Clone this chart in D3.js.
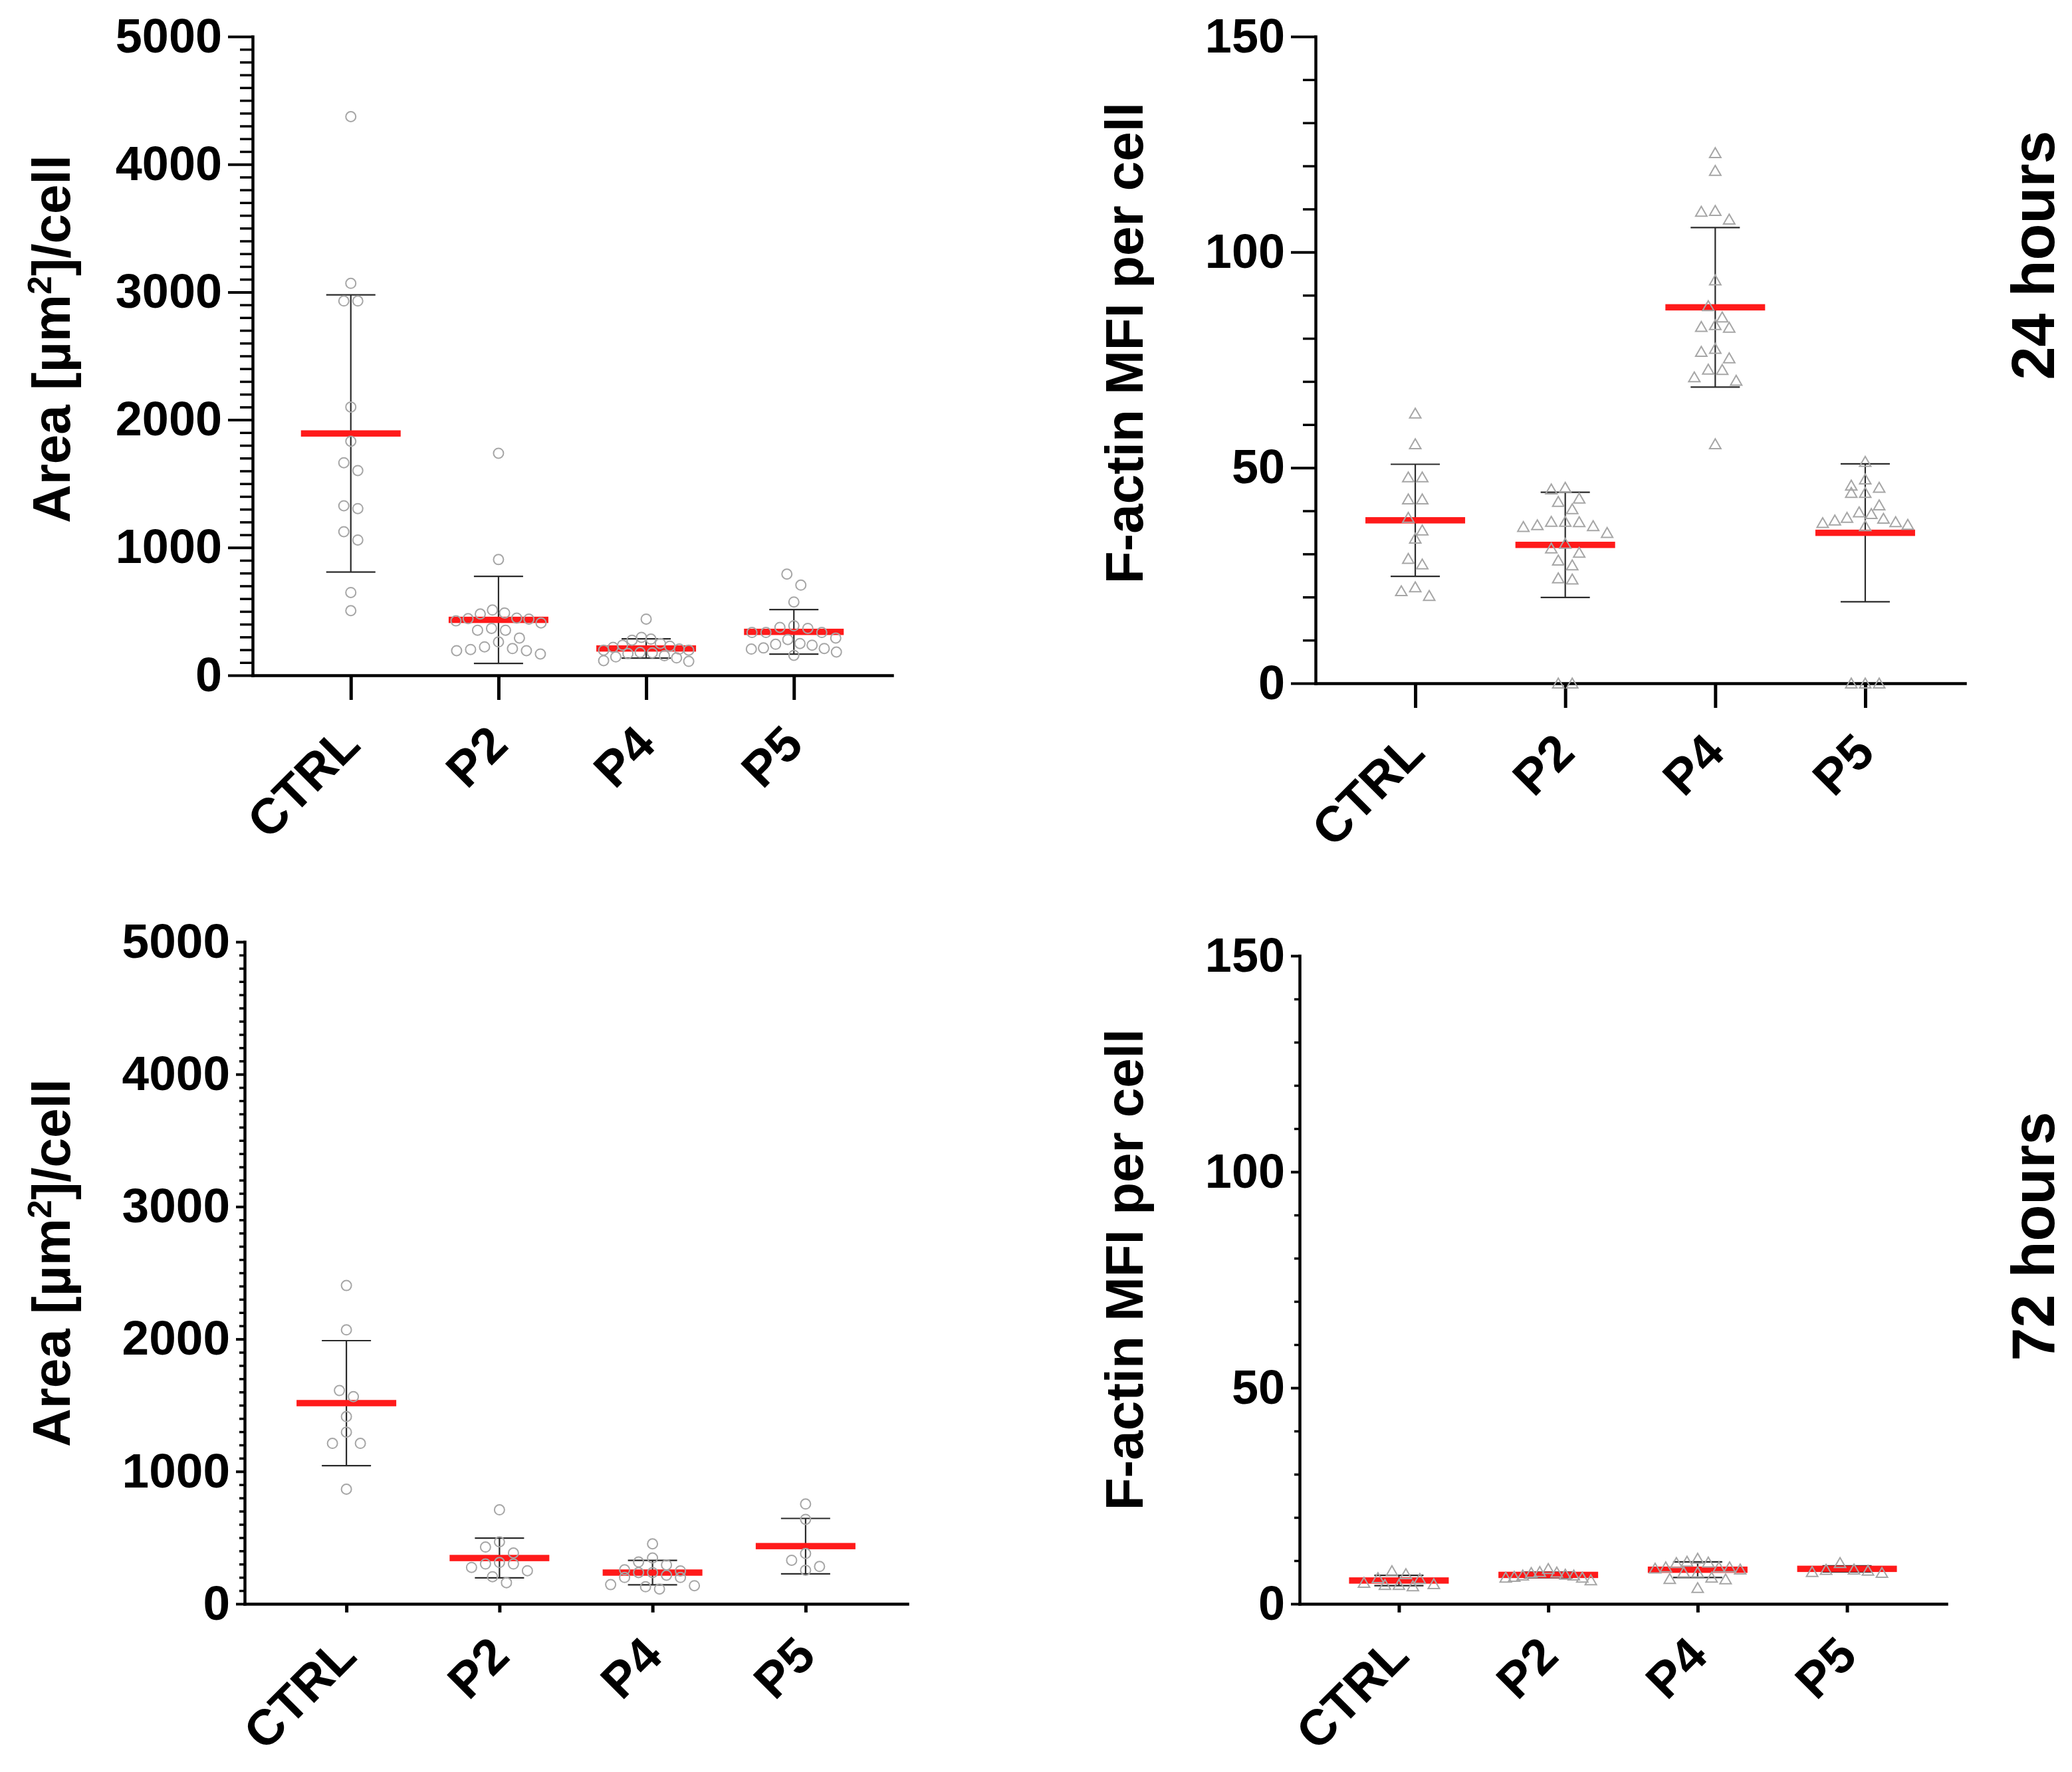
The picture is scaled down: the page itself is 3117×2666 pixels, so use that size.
<!DOCTYPE html>
<html>
<head>
<meta charset="utf-8">
<script src="https://cdn.jsdelivr.net/npm/d3@7"></script>
<style>
  body { margin: 0; background: #fff; }
  svg { display: block; font-family: "Liberation Sans", Arial, sans-serif; font-weight: bold; }
</style>
</head>
<body>
<script>
// ------------  DATA  ------------
const groups = ["CTRL", "P2", "P4", "P5"];

// cell area (µm²) at 24 h
const area24 = [
  [4373, 3068, 2930, 2930, 2100, 1832, 1664, 1603, 1327, 1305, 1124, 1059, 648, 506],
  [1738, 906, 511, 488, 480, 448, 443, 440, 426, 410, 367, 353, 353, 292, 261, 223, 209, 202, 193, 193, 167],
  [440, 297, 283, 275, 249, 236, 228, 219, 205, 197, 197, 179, 176, 170, 153, 144, 136, 115, 109],
  [792, 706, 574, 388, 375, 367, 335, 335, 335, 292, 280, 249, 243, 236, 214, 210, 205, 182, 156]
];
const area24Mean = [1893, 434, 210, 340];
const area24SD = [1085, 341, 75, 174];

// F-actin MFI at 24 h
const actin24 = [
  [62.6, 55.5, 47.8, 47.8, 42.7, 42.7, 38.4, 35.5, 33.6, 28.9, 27.6, 22.3, 21.4, 20.3],
  [45.4, 45.0, 42.9, 42.1, 40.4, 37.5, 37.4, 37.5, 36.7, 36.5, 36.3, 34.9, 32.4, 31.3, 30.3, 28.5, 27.4, 24.4, 24.1, 0, 0],
  [123.0, 118.9, 109.6, 109.4, 107.6, 93.5, 87.5, 84.9, 83.1, 82.7, 82.5, 77.6, 76.9, 75.4, 72.8, 72.7, 71.0, 70.2, 55.5],
  [51.4, 47.3, 45.9, 45.4, 44.2, 44.2, 41.3, 39.7, 39.3, 38.4, 38.2, 37.8, 37.4, 37.2, 36.8, 36.5, 0, 0, 0]
];
const actin24Mean = [37.8, 32.1, 87.2, 34.9];
const actin24SD = [13, 12.2, 18.5, 16];

// cell area (µm²) at 72 h
const area72 = [
  [2404, 2069, 1611, 1565, 1414, 1297, 1212, 1212, 866],
  [710, 468, 429, 384, 312, 301, 301, 275, 250, 205, 160],
  [453, 346, 316, 294, 257, 249, 236, 236, 216, 199, 199, 145, 137, 129, 112],
  [754, 638, 380, 329, 282, 254]
];
const area72Mean = [1516, 346, 236, 436];
const area72SD = [472, 150, 92, 209];

// F-actin MFI at 72 h
const actin72 = [
  [7.6, 6.9, 6.0, 5.8, 4.9, 4.6, 4.4, 4.4, 4.1],
  [8.1, 7.4, 7.3, 7.2, 6.8, 6.6, 6.6, 6.3, 6.1, 6.1, 5.5],
  [10.5, 9.8, 9.6, 9.5, 8.5, 8.5, 8.5, 8.2, 8.0, 7.3, 7.3, 6.1, 5.8, 5.7, 3.7],
  [9.5, 8.0, 7.9, 7.7, 7.4, 7.2]
];
const actin72Mean = [5.4, 6.7, 7.9, 8.1];
const actin72SD = [1.2, 0.65, 1.8, 0.7];

// ------------  LAYOUT  ------------
const W = 3117, H = 2666;
const FONT = '"Liberation Sans", Arial, sans-serif';

const panels = [
  { values: area24, mean: area24Mean, sd: area24SD, max: 5000, major: 1000, minor: 100,
    x0: 380, x1: 1342, yTop: 55, yBot: 1016, tick: 37, minorTick: 19, fs: 72, lab: [17, 108],
    marker: "circle", title: "area", titleX: 105, titleY: 510 },
  { values: actin24, mean: actin24Mean, sd: actin24SD, max: 150, major: 50, minor: 10,
    x0: 1979, x1: 2956, yTop: 55, yBot: 1028, tick: 37, minorTick: 19, fs: 72, lab: [17, 108],
    marker: "triangle", title: "F-actin MFI per cell", titleX: 1719, titleY: 516,
    side: "24 hours", sideX: 3090, sideY: 384 },
  { values: area72, mean: area72Mean, sd: area72SD, max: 5000, major: 1000, minor: 100,
    x0: 368, x1: 1365, yTop: 1417, yBot: 2413, tick: 13, minorTick: 8, fs: 73, lab: [18, 82],
    marker: "circle", title: "area", titleX: 105, titleY: 1900 },
  { values: actin72, mean: actin72Mean, sd: actin72SD, max: 150, major: 50, minor: 10,
    x0: 1955, x1: 2928, yTop: 1438, yBot: 2413, tick: 13, minorTick: 8, fs: 72, lab: [18, 82],
    marker: "triangle", title: "F-actin MFI per cell", titleX: 1719, titleY: 1910,
    side: "72 hours", sideX: 3090, sideY: 1860 }
];

const svg = d3.select("body").append("svg")
  .attr("width", W).attr("height", H)
  .attr("viewBox", `0 0 ${W} ${H}`);

// prism-like scatter: points that sit close in y share a row and get spread sideways
function swarm(vals, y) {
  const pts = vals.map(v => ({ v: v, py: y(v) })).sort((a, b) => a.py - b.py);
  const bins = [];
  let cur = null;
  pts.forEach(p => {
    if (!cur || p.py - cur[0].py > 20) { cur = [p]; bins.push(cur); }
    else cur.push(p);
  });
  bins.forEach(bin => {
    const n = bin.length;
    const step = n > 1 ? Math.min(21, 128 / (n - 1)) : 0;
    const slots = d3.range(n).map(k => (k - (n - 1) / 2) * step)
      .sort((a, b) => Math.abs(a) - Math.abs(b) || a - b);
    bin.forEach((p, j) => p.dx = slots[j]);
  });
  return pts;
}

panels.forEach(P => {
  const g = svg.append("g");

  const x = d3.scalePoint().domain(groups).range([P.x0, P.x1]).padding(0.665);
  const y = d3.scaleLinear().domain([0, P.max]).range([P.yBot, P.yTop]);

  // ------------  AXES  ------------
  const minors = d3.range(0, P.max + 1, P.minor).filter(v => v % P.major !== 0);

  const yMinor = g.append("g").attr("transform", `translate(${P.x0},0)`)
    .call(d3.axisLeft(y).tickValues(minors).tickSize(P.minorTick).tickFormat(""));
  yMinor.select(".domain").remove();
  yMinor.selectAll(".tick line").attr("stroke-width", 3.5);

  const yAxis = g.append("g").attr("transform", `translate(${P.x0},0)`)
    .call(d3.axisLeft(y).tickValues(d3.range(0, P.max + 1, P.major))
      .tickSize(P.tick).tickSizeOuter(0).tickPadding(9).tickFormat(d3.format("d")));
  yAxis.select(".domain").attr("stroke-width", 4.5).attr("stroke-linecap", "square");
  yAxis.selectAll(".tick line").attr("stroke-width", 4);
  yAxis.selectAll(".tick text")
    .attr("font-family", FONT).attr("font-weight", "bold").attr("font-size", P.fs);

  const xAxis = g.append("g").attr("transform", `translate(0,${P.yBot})`)
    .call(d3.axisBottom(x).tickSize(P.tick).tickSizeOuter(0));
  xAxis.select(".domain").attr("stroke-width", 4.5).attr("stroke-linecap", "square");
  xAxis.selectAll(".tick line").attr("stroke-width", 5);
  xAxis.selectAll(".tick text")
    .attr("y", null).attr("dy", null)
    .attr("text-anchor", "end")
    .attr("transform", `translate(${P.lab[0]},${P.lab[1]}) rotate(-45)`)
    .attr("font-family", FONT).attr("font-weight", "bold").attr("font-size", 75);
  g.selectAll(".tick text").attr("fill", "#000");

  // ------------  ERROR BARS + MEAN  ------------
  groups.forEach((c, i) => {
    const cx = x(c);
    const lo = y(P.mean[i] - P.sd[i]), hi = y(P.mean[i] + P.sd[i]);
    const eb = g.append("g").attr("stroke", "#2a2a2a").attr("stroke-width", 2.2);
    eb.append("line").attr("x1", cx).attr("x2", cx).attr("y1", lo).attr("y2", hi);
    eb.append("line").attr("x1", cx - 37).attr("x2", cx + 37).attr("y1", lo).attr("y2", lo);
    eb.append("line").attr("x1", cx - 37).attr("x2", cx + 37).attr("y1", hi).attr("y2", hi);

    g.append("rect")
      .attr("x", cx - 75).attr("width", 150)
      .attr("y", y(P.mean[i]) - 4.75).attr("height", 9.5)
      .attr("fill", "#ff1a1a");
  });

  // ------------  POINTS  ------------
  const tri = d3.symbol(d3.symbolTriangle, 125);
  groups.forEach((c, i) => {
    const pts = swarm(P.values[i], y);
    const sel = g.append("g").selectAll(".pt").data(pts).enter();
    if (P.marker === "circle") {
      sel.append("circle")
        .attr("cx", d => x(c) + d.dx).attr("cy", d => d.py).attr("r", 7.5)
        .attr("fill", "none").attr("stroke", "#a6a6a6").attr("stroke-width", 2);
    } else {
      sel.append("path")
        .attr("d", tri)
        .attr("transform", d => `translate(${x(c) + d.dx},${d.py + 2})`)
        .attr("fill", "none").attr("stroke", "#a6a6a6").attr("stroke-width", 2);
    }
  });

  // ------------  TITLES  ------------
  const t = g.append("text")
    .attr("transform", `translate(${P.titleX},${P.titleY}) rotate(-90)`)
    .attr("text-anchor", "middle")
    .attr("font-family", FONT).attr("font-weight", "bold").attr("font-size", 80);
  if (P.title === "area") {
    t.append("tspan").text("Area [µm");
    t.append("tspan").text("2").attr("font-size", 50).attr("dy", -28);
    t.append("tspan").text("]/cell").attr("dy", 28);
  } else {
    t.text(P.title);
  }

  if (P.side) {
    g.append("text")
      .attr("transform", `translate(${P.sideX},${P.sideY}) rotate(-90)`)
      .attr("text-anchor", "middle")
      .attr("font-family", FONT).attr("font-weight", "bold").attr("font-size", 90)
      .text(P.side);
  }
});
</script>
</body>
</html>
